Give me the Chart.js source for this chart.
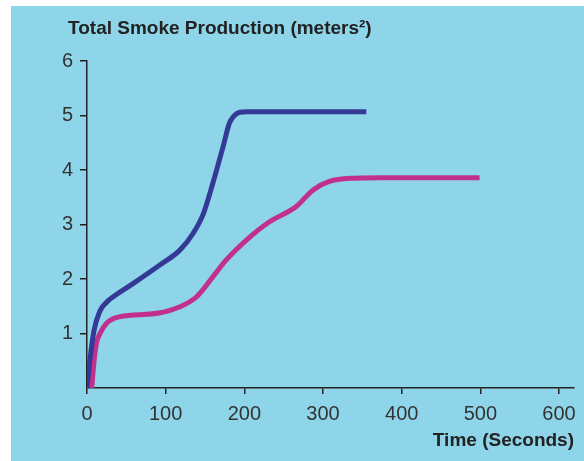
<!DOCTYPE html>
<html>
<head>
<meta charset="utf-8">
<script src="https://cdn.jsdelivr.net/npm/chart.js@4"></script>
<style>
  body { margin: 0; background: #fff; }
  #panel { position: absolute; left: 11px; top: 6px; width: 573px; height: 455px; background: rgb(142, 213, 234); }
</style>
</head>
<body>
<div id="panel"><canvas id="smokeChart" width="573" height="455"></canvas></div>
<script>
// readings: time in seconds, smoke in m²
const blueTime = [0, 4, 9, 16, 24, 33, 59, 93, 118, 135, 148, 160, 173, 181, 186, 194, 203, 355];
const blueSmoke = [0, 0.55, 1.06, 1.4, 1.56, 1.67, 1.92, 2.26, 2.53, 2.84, 3.2, 3.76, 4.43, 4.86, 4.98, 5.06, 5.07, 5.07];
const pinkTime = [6, 9, 12, 16.5, 25, 33, 42, 93, 118, 139, 160, 177, 203, 232, 266, 287, 308, 338, 372, 499];
const pinkSmoke = [0, 0.5, 0.82, 1.0, 1.19, 1.27, 1.31, 1.38, 1.49, 1.67, 2.04, 2.35, 2.72, 3.05, 3.33, 3.63, 3.79, 3.85, 3.86, 3.86];
const xTicks = [0, 100, 200, 300, 400, 500, 600];
const yTicks = [1, 2, 3, 4, 5, 6];
const chartTitle = 'Total Smoke Production (meters²)';

const toPoints = (xs, ys) => xs.map((x, i) => ({ x: x, y: ys[i] }));
const font = "'Liberation Sans', Arial, sans-serif";

// title sits at the top left, over the y axis
const topTitle = {
    id: 'topTitle',
    afterDraw(chart) {
        const c = chart.ctx;
        c.save();
        c.fillStyle = '#222';
        c.font = 'bold 19px ' + font;
        c.textBaseline = 'alphabetic';
        c.fillText(chartTitle, 57, 28);
        c.restore();
    }
};

const ctx = document.getElementById('smokeChart').getContext('2d');
new Chart(ctx, {
    type: 'line',
    data: {
        datasets: [
            {
                label: 'Sample A',
                data: toPoints(blueTime, blueSmoke),
                borderColor: 'rgb(52, 57, 150)',
                borderWidth: 5,
                borderCapStyle: 'butt',
                cubicInterpolationMode: 'monotone',
                pointRadius: 0,
                fill: false
            },
            {
                label: 'Sample B',
                data: toPoints(pinkTime, pinkSmoke),
                borderColor: 'rgb(193, 48, 143)',
                borderWidth: 5,
                borderCapStyle: 'butt',
                cubicInterpolationMode: 'monotone',
                pointRadius: 0,
                fill: false
            }
        ]
    },
    options: {
        responsive: false,
        animation: false,
        layout: { padding: { left: 46, right: 9, top: 55, bottom: 0 } },
        plugins: {
            legend: { display: false },
            tooltip: { enabled: false }
        },
        scales: {
            x: {
                type: 'linear',
                min: 0,
                max: 619,
                afterBuildTicks: (scale) => { scale.ticks = xTicks.map(v => ({ value: v })); },
                afterFit: (scale) => { scale.height = 73; },
                border: { color: '#222', width: 1.5 },
                grid: { drawOnChartArea: false, color: '#222', tickLength: 6, lineWidth: 1.5 },
                ticks: { color: '#333', padding: 8, maxRotation: 0, font: { family: font, size: 20 } },
                title: {
                    display: true,
                    text: 'Time (Seconds)',
                    align: 'end',
                    color: '#222',
                    font: { family: font, size: 19, weight: 'bold', lineHeight: 1.2 },
                    padding: { top: 0, bottom: 9 }
                }
            },
            y: {
                min: 0,
                max: 6,
                afterBuildTicks: (scale) => { scale.ticks = yTicks.map(v => ({ value: v })); },
                afterFit: (scale) => { scale.width = 30; },
                border: { color: '#222', width: 1.5 },
                grid: { drawOnChartArea: false, color: '#222', tickLength: 7, lineWidth: 1.5 },
                ticks: { color: '#333', padding: 7, font: { family: font, size: 20 } }
            }
        }
    },
    plugins: [topTitle]
});
</script>
</body>
</html>
